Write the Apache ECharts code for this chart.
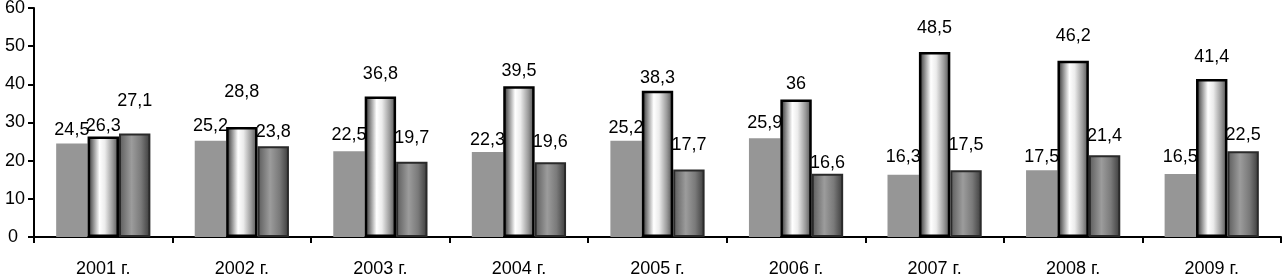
<!DOCTYPE html>
<html>
<head>
<meta charset="utf-8">
<script src="https://cdn.jsdelivr.net/npm/echarts@6/dist/echarts.min.js"></script>
<style>
html,body{margin:0;padding:0;background:#fff;}
#c{width:1283px;height:275px;}
</style>
</head>
<body>
<div id="c"></div>
<script>
var categories = ['2001 г.','2002 г.','2003 г.','2004 г.','2005 г.','2006 г.','2007 г.','2008 г.','2009 г.'];
var series1 = [24.5, 25.2, 22.5, 22.3, 25.2, 25.9, 16.3, 17.5, 16.5];
var series2 = [26.3, 28.8, 36.8, 39.5, 38.3, 36, 48.5, 46.2, 41.4];
var series3 = [27.1, 23.8, 19.7, 19.6, 17.7, 16.6, 17.5, 21.4, 22.5];
var yTicks = [0, 10, 20, 30, 40, 50, 60];

// label distances above bars (layout only)
var lift1 = [4, 6, 7, 3, 4, 6, 9, 4, 8];
var lift2 = [2, 26, 14, 6, 4, 7, 15, 16, 13];
var lift3 = [24, 5, 15, 11, 15, 2, 16, 10, 7];

var FONT = 'Liberation Sans, Arial, sans-serif';
var FS = 18;
function fmt(p){ return String(p.value).replace('.', ','); }
function items(vals, lifts){
  return vals.map(function(v, i){ return {value: v, label: {distance: lifts[i]}}; });
}
var labelBase = {show: true, position: 'top', formatter: fmt, color: '#000', fontFamily: FONT, fontSize: FS};

var grad2 = new echarts.graphic.LinearGradient(0, 0, 1, 0, [
  {offset: 0, color: '#1a1a1a'},
  {offset: 0.12, color: '#6a6a6a'},
  {offset: 0.38, color: '#ffffff'},
  {offset: 0.55, color: '#ececec'},
  {offset: 0.8, color: '#9a9a9a'},
  {offset: 1, color: '#4a4a4a'}
]);
var grad3 = new echarts.graphic.LinearGradient(0, 0, 1, 0, [
  {offset: 0, color: '#5a5a5a'},
  {offset: 0.4, color: '#9c9c9c'},
  {offset: 0.7, color: '#7a7a7a'},
  {offset: 1, color: '#3a3a3a'}
]);

var chart = echarts.init(document.getElementById('c'), null, {renderer: 'canvas'});
chart.setOption({
  animation: false,
  backgroundColor: '#fff',
  grid: {left: 34, right: 2, top: 8, bottom: 38, containLabel: false, outerBoundsMode: 'none'},
  xAxis: {
    type: 'category',
    data: categories,
    boundaryGap: true,
    axisLine: {lineStyle: {color: '#000', width: 2}},
    axisTick: {show: true, length: 6, lineStyle: {color: '#000', width: 2}},
    axisLabel: {color: '#000', fontFamily: FONT, fontSize: FS, margin: 23}
  },
  yAxis: {
    type: 'value',
    min: yTicks[0],
    max: yTicks[yTicks.length - 1],
    interval: yTicks[1] - yTicks[0],
    axisLine: {show: true, lineStyle: {color: '#000', width: 2}},
    axisTick: {show: true, length: 6, lineStyle: {color: '#000', width: 2}},
    splitLine: {show: false},
    axisLabel: {
      color: '#000', fontFamily: FONT, fontSize: FS, margin: 9,
      formatter: function(v){ return v === 0 ? '{z|0}' : String(v); },
      rich: {z: {fontFamily: FONT, fontSize: FS, color: '#000', padding: [0, 7, 0, 0]}}
    }
  },
  series: [
    {type: 'bar', data: items(series1, lift1), barGap: '0%', barCategoryGap: '32%',
     itemStyle: {color: '#969696'}, label: labelBase},
    {type: 'bar', data: items(series2, lift2), barGap: '0%', barCategoryGap: '32%',
     itemStyle: {color: grad2, borderColor: '#000', borderWidth: 2.5}, label: labelBase},
    {type: 'bar', data: items(series3, lift3), barGap: '0%', barCategoryGap: '32%',
     itemStyle: {color: grad3, borderColor: '#2a2a2a', borderWidth: 2}, label: labelBase}
  ]
});
</script>
</body>
</html>
